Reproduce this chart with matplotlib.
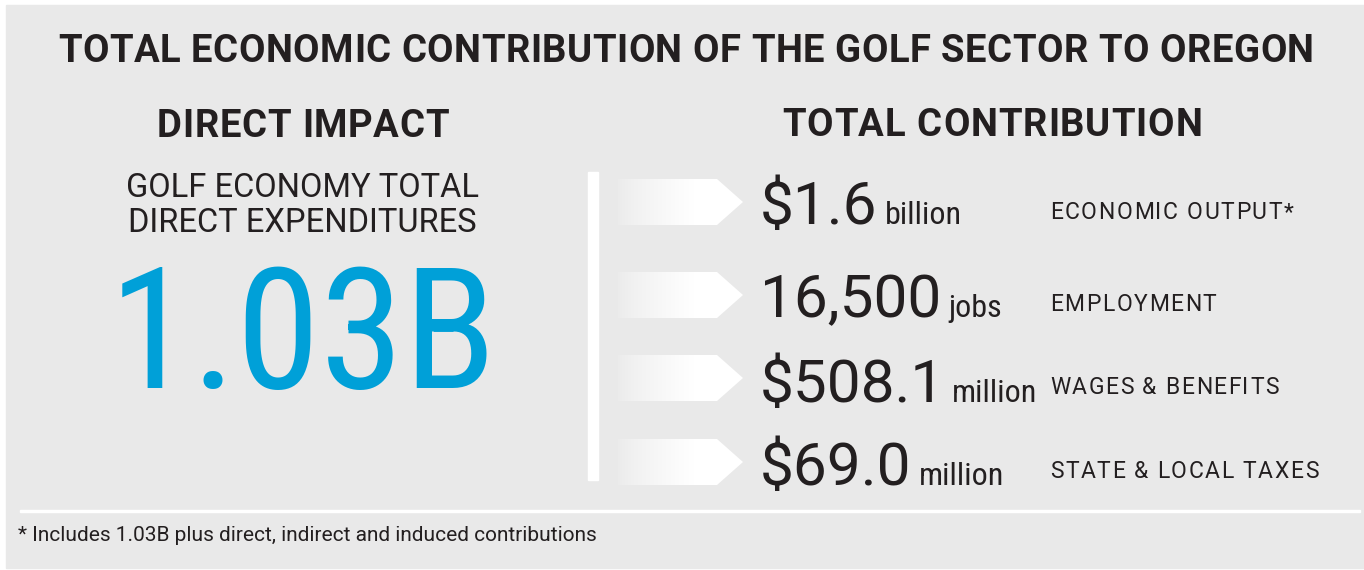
import numpy as np
import matplotlib
matplotlib.use('Agg')
import matplotlib.pyplot as plt
from matplotlib.path import Path
from matplotlib.patches import PathPatch, Rectangle

# text content of the infographic
title = "TOTAL ECONOMIC CONTRIBUTION OF THE GOLF SECTOR TO OREGON"
left_head = "DIRECT IMPACT"
right_head = "TOTAL CONTRIBUTION"
direct_label = ["GOLF ECONOMY TOTAL", "DIRECT EXPENDITURES"]
direct_value = "1.03B"
values = ["$1.6", "16,500", "$508.1", "$69.0"]
units = ["billion", "jobs", "million", "million"]
measures = ["ECONOMIC OUTPUT*", "EMPLOYMENT", "WAGES & BENEFITS", "STATE & LOCAL TAXES"]
footnote = "* Includes 1.03B plus direct, indirect and induced contributions"

W, H = 1364, 570
INK = '#231f20'
BLUE = '#00a0d8'
BG = '#e9e9e9'

fig = plt.figure(figsize=(W / 100, H / 100), dpi=100, facecolor='white')
ax = fig.add_axes([0, 0, 1, 1])
ax.set_xlim(0, W)
ax.set_ylim(H, 0)
ax.axis('off')
renderer = fig.canvas.get_renderer()


def text_w(s, **kw):
    t = ax.text(0, 0, s, **kw)
    w = t.get_window_extent(renderer).width
    t.remove()
    return w


def spaced(x, y, s, track, ha='left', **kw):
    # draw text char by char with extra letter spacing (px)
    bar = text_w('|', **kw)
    offs = [text_w(s[:i] + '|', **kw) - bar if i else 0 for i in range(len(s))]
    total = text_w(s, **kw) + track * (len(s) - 1)
    if ha == 'center':
        x0 = x - total / 2
    elif ha == 'right':
        x0 = x - total
    else:
        x0 = x
    for i, ch in enumerate(s):
        ax.text(x0 + offs[i] + i * track, y, ch, ha='left', va='baseline', **kw)
    return x0 + total


# panel + dividers
ax.add_patch(Rectangle((6, 5), W - 6, 563, color=BG, zorder=0))
ax.add_patch(Rectangle((588, 172), 10, 308, color='white', zorder=1))
ax.add_patch(Rectangle((20, 509.5), 1340, 2.5, color='white', zorder=1))

# headings
spaced(686, 62, title, 0.5, ha='center', family='Roboto', weight='bold', fontsize=27.5, color=INK)
spaced(303, 137, left_head, 0.7, ha='center', family='Roboto', weight='bold', fontsize=27.5, color=INK)
spaced(992, 136, right_head, 0.9, ha='center', family='Roboto', weight='bold', fontsize=27.5, color=INK)

# direct impact block
for i, line in enumerate(direct_label):
    ax.text(302, 197 + 35 * i, line, ha='center', va='baseline', family='Roboto',
            fontsize=23.5, color=INK)
ax.text(303, 388, direct_value, ha='center', va='baseline', family='Roboto Condensed',
        fontsize=122, color=BLUE)

# total contribution rows
row_y = [202, 295, 378, 462]
base_y = [224, 317, 402, 485]
label_y = [219, 311, 394, 478]

grad = np.ones((1, 200, 4))
xs = np.linspace(618, 743, 200)
grad[0, :, 3] = np.clip(0.1 + 0.9 * ((xs - 618) / 75) ** 0.8, 0, 1)

for i in range(len(values)):
    cy = row_y[i]
    verts = [(618, cy - 23), (717, cy - 23), (743, cy), (717, cy + 23), (618, cy + 23), (618, cy - 23)]
    patch = PathPatch(Path(verts, closed=True), facecolor='none', edgecolor='none')
    ax.add_patch(patch)
    im = ax.imshow(grad, extent=(618, 743, cy + 23, cy - 23), aspect='auto', zorder=2,
                   interpolation='bilinear')
    im.set_clip_path(patch)

    t = ax.text(760, base_y[i], values[i], ha='left', va='baseline', family='Roboto',
                fontsize=43.5, color=INK)
    x1 = t.get_window_extent(renderer).x1
    ax.text(x1 + 7, base_y[i], units[i], ha='left', va='baseline', family='Roboto Condensed',
            fontsize=23, color=INK)
    spaced(1050, label_y[i], measures[i], 1.6, family='Roboto', fontsize=16.5, color=INK)

ax.set_xlim(0, W)
ax.set_ylim(H, 0)

ax.text(18, 541, footnote, ha='left', va='baseline', family='Roboto', fontsize=15, color=INK)

fig.savefig('out.png', dpi=100, facecolor='white')
